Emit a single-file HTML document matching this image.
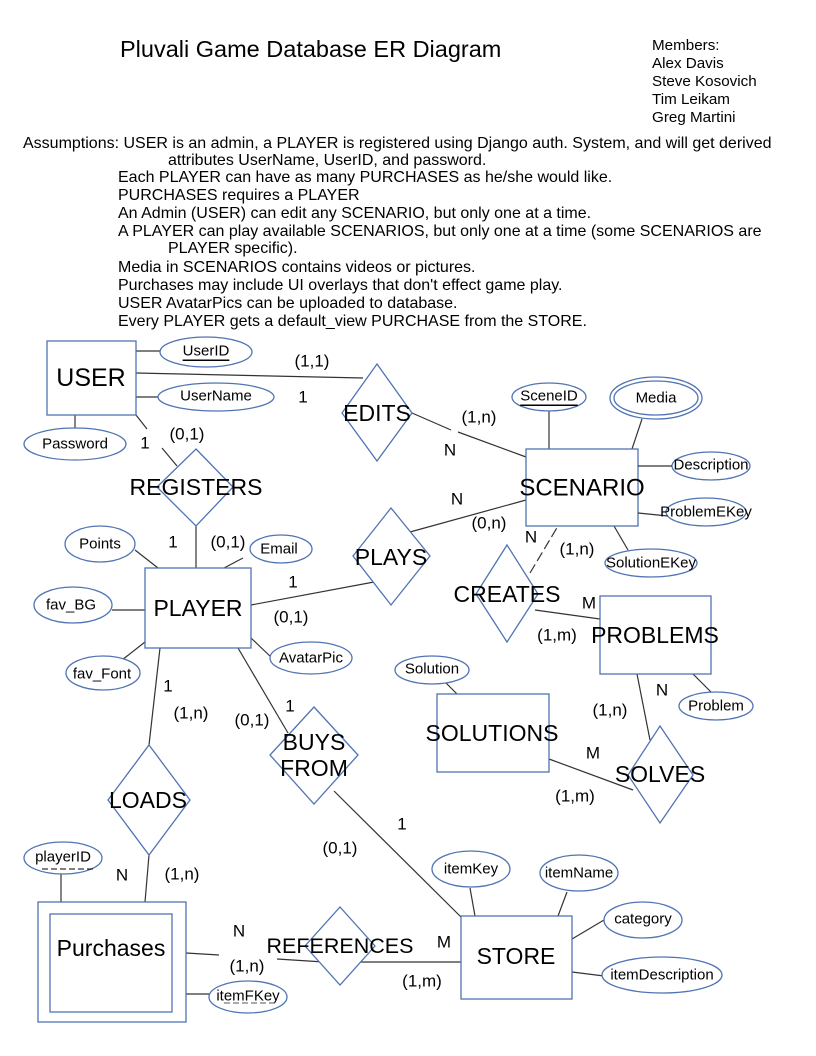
<!DOCTYPE html>
<html><head><meta charset="utf-8"><style>
html,body{margin:0;padding:0;background:#fff}
svg{display:block}
text{font-family:"Liberation Sans",Arial,sans-serif;fill:#000}
.s{fill:#fff;stroke:#4f74b3;stroke-width:1.3}
.l{stroke:#333;stroke-width:1.2;fill:none}
.a{font-size:15px;text-anchor:middle;dominant-baseline:central}
.e{font-size:23px;text-anchor:middle;dominant-baseline:central}
.c{font-size:17px;text-anchor:middle;dominant-baseline:central}
.t{font-size:16px}
.m{font-size:15.2px}
</style></head><body>
<svg width="816" height="1056" viewBox="0 0 816 1056" xmlns="http://www.w3.org/2000/svg">
<text x="120" y="57" style="font-size:23.5px">Pluvali Game Database ER Diagram</text>
<text x="652" y="50" class="m">Members:</text>
<text x="652" y="68" class="m">Alex Davis</text>
<text x="652" y="86" class="m">Steve Kosovich</text>
<text x="652" y="104" class="m">Tim Leikam</text>
<text x="652" y="122" class="m">Greg Martini</text>
<text x="23" y="148" class="t">Assumptions: USER is an admin, a PLAYER is registered using Django auth. System, and will get derived</text>
<text x="168" y="165" class="t">attributes UserName, UserID, and password.</text>
<text x="118" y="182" class="t">Each PLAYER can have as many PURCHASES as he/she would like.</text>
<text x="118" y="200" class="t">PURCHASES requires a PLAYER</text>
<text x="118" y="218" class="t">An Admin (USER) can edit any SCENARIO, but only one at a time.</text>
<text x="118" y="236" class="t">A PLAYER can play available SCENARIOS, but only one at a time (some SCENARIOS are</text>
<text x="168" y="253" class="t">PLAYER specific).</text>
<text x="118" y="272" class="t">Media in SCENARIOS contains videos or pictures.</text>
<text x="118" y="290" class="t">Purchases may include UI overlays that don't effect game play.</text>
<text x="118" y="308" class="t">USER AvatarPics can be uploaded to database.</text>
<text x="118" y="326" class="t">Every PLAYER gets a default_view PURCHASE from the STORE.</text>

<g class="l">
<line x1="136" y1="351" x2="160" y2="351"/>
<line x1="136" y1="373" x2="363" y2="378"/>
<line x1="136" y1="397" x2="158" y2="397"/>
<line x1="75" y1="415" x2="75" y2="429"/>
<line x1="136" y1="415" x2="147" y2="429"/>
<line x1="162" y1="448" x2="177" y2="466"/>
<line x1="196" y1="526" x2="196" y2="568"/>
<line x1="135" y1="550" x2="158" y2="568"/>
<line x1="243" y1="558" x2="224" y2="568"/>
<line x1="112" y1="610" x2="145" y2="610"/>
<line x1="122" y1="660" x2="145" y2="642"/>
<line x1="251" y1="638" x2="272" y2="658"/>
<line x1="251" y1="605" x2="374" y2="582"/>
<line x1="410" y1="532" x2="526" y2="500"/>
<line x1="412" y1="413" x2="451" y2="430"/>
<line x1="458" y1="432" x2="526" y2="457"/>
<line x1="549" y1="411" x2="549" y2="449"/>
<line x1="642" y1="419" x2="632" y2="449"/>
<line x1="614" y1="526" x2="628" y2="550"/>
<line x1="530" y1="573" x2="558" y2="526" stroke-dasharray="10,4"/>
<line x1="535" y1="610" x2="600" y2="619"/>
<line x1="693" y1="674" x2="711" y2="692"/>
<line x1="637" y1="674" x2="650" y2="740"/>
<line x1="446" y1="683" x2="457" y2="694"/>
<line x1="549" y1="759" x2="633" y2="790"/>
<line x1="160" y1="648" x2="149" y2="745"/>
<line x1="149" y1="855" x2="145" y2="902"/>
<line x1="238" y1="648" x2="288" y2="733"/>
<line x1="334" y1="791" x2="461" y2="917"/>
<line x1="61" y1="874" x2="61" y2="902"/>
<line x1="186" y1="994" x2="210" y2="994"/>
<line x1="186" y1="953" x2="219" y2="955"/>
<line x1="277" y1="959" x2="324" y2="962"/>
<line x1="358" y1="962" x2="461" y2="962"/>
<line x1="470" y1="888" x2="475" y2="916"/>
<line x1="567" y1="892" x2="558" y2="916"/>
<line x1="604" y1="920" x2="572" y2="939"/>
<line x1="572" y1="972" x2="604" y2="976"/>
</g>

<rect class="s" x="47" y="341" width="89" height="74"/>
<rect class="s" x="145" y="568" width="106" height="80"/>
<rect class="s" x="526" y="449" width="112" height="77"/>
<rect class="s" x="600" y="596" width="111" height="78"/>
<rect class="s" x="437" y="694" width="112" height="78"/>
<rect class="s" x="38" y="902" width="148" height="120"/>
<rect class="s" x="50" y="914" width="122" height="98"/>
<rect class="s" x="461" y="916" width="111" height="83"/>

<polygon class="s" points="196,449 233,487 196,526 157,487"/>
<polygon class="s" points="377,364 412,413 377,461 342,413"/>
<polygon class="s" points="391,508 430,556 391,605 353,556"/>
<polygon class="s" points="507,545 538,594 507,642 476,594"/>
<polygon class="s" points="660,726 693,775 660,823 628,775"/>
<polygon class="s" points="149,745 190,800 149,855 108,800"/>
<polygon class="s" points="314,707 358,755 314,804 270,755"/>
<polygon class="s" points="340,907 375,946 340,985 305,946"/>

<ellipse class="s" cx="206" cy="352" rx="46" ry="15"/>
<ellipse class="s" cx="216" cy="397" rx="58" ry="14"/>
<ellipse class="s" cx="75" cy="444" rx="51" ry="16"/>
<ellipse class="s" cx="100" cy="544" rx="35" ry="18"/>
<ellipse class="s" cx="281" cy="549" rx="31" ry="14"/>
<ellipse class="s" cx="73" cy="605" rx="39" ry="18"/>
<ellipse class="s" cx="103" cy="673" rx="37" ry="17"/>
<ellipse class="s" cx="311" cy="658" rx="41" ry="16"/>
<ellipse class="s" cx="549" cy="397" rx="37" ry="14"/>
<ellipse class="s" cx="656" cy="398" rx="46" ry="21"/>
<ellipse class="s" cx="656" cy="398" rx="42" ry="17"/>
<ellipse class="s" cx="711" cy="466" rx="39" ry="14"/>
<ellipse class="s" cx="706" cy="512" rx="40" ry="14"/>
<ellipse class="s" cx="651" cy="563" rx="46" ry="14"/>
<ellipse class="s" cx="716" cy="706" rx="37" ry="14"/>
<ellipse class="s" cx="432" cy="670" rx="37" ry="14"/>
<ellipse class="s" cx="63" cy="858" rx="39" ry="16"/>
<ellipse class="s" cx="248" cy="997" rx="39" ry="16"/>
<ellipse class="s" cx="471" cy="869" rx="39" ry="18"/>
<ellipse class="s" cx="579" cy="873" rx="39" ry="18"/>
<ellipse class="s" cx="643" cy="920" rx="39" ry="18"/>
<ellipse class="s" cx="662" cy="975" rx="60" ry="18"/>
<line class="l" x1="638" y1="466" x2="672" y2="466"/>
<line class="l" x1="638" y1="513" x2="668" y2="516"/>

<text class="e" x="91" y="378" style="font-size:25px">USER</text>
<text class="e" x="196" y="487">REGISTERS</text>
<text class="e" x="377" y="413">EDITS</text>
<text class="e" x="391" y="557">PLAYS</text>
<text class="e" x="198" y="608">PLAYER</text>
<text class="e" x="582" y="488" style="font-size:24px">SCENARIO</text>
<text class="e" x="507" y="594">CREATES</text>
<text class="e" x="655" y="635">PROBLEMS</text>
<text class="e" x="492" y="733">SOLUTIONS</text>
<text class="e" x="660" y="774">SOLVES</text>
<text class="e" x="148" y="800">LOADS</text>
<text class="e" x="314" y="742">BUYS</text>
<text class="e" x="314" y="768">FROM</text>
<text class="e" x="111" y="948">Purchases</text>
<text class="e" x="340" y="946" style="font-size:21.5px">REFERENCES</text>
<text class="e" x="516" y="956">STORE</text>

<text class="a" x="206" y="351" text-decoration="underline">UserID</text>
<text class="a" x="216" y="396">UserName</text>
<text class="a" x="75" y="444">Password</text>
<text class="a" x="100" y="544">Points</text>
<text class="a" x="279" y="549">Email</text>
<text class="a" x="71" y="605">fav_BG</text>
<text class="a" x="102" y="674">fav_Font</text>
<text class="a" x="311" y="658">AvatarPic</text>
<text class="a" x="549" y="396" text-decoration="underline">SceneID</text>
<text class="a" x="656" y="398">Media</text>
<text class="a" x="711" y="465">Description</text>
<text class="a" x="706" y="512">ProblemEKey</text>
<text class="a" x="651" y="563">SolutionEKey</text>
<text class="a" x="716" y="706">Problem</text>
<text class="a" x="432" y="669">Solution</text>
<text class="a" x="63" y="857">playerID</text>
<line x1="42" y1="869" x2="94" y2="869" stroke="#000" stroke-dasharray="6,3"/>
<text class="a" x="248" y="996">itemFKey</text>
<line x1="224" y1="1003" x2="278" y2="1003" stroke="#555" stroke-dasharray="6,3"/>
<text class="a" x="471" y="869">itemKey</text>
<text class="a" x="579" y="873">itemName</text>
<text class="a" x="643" y="919">category</text>
<text class="a" x="662" y="975">itemDescription</text>

<g>
<text class="c" x="312" y="361">(1,1)</text>
<text class="c" x="303" y="397">1</text>
<text class="c" x="145" y="443">1</text>
<text class="c" x="187" y="434">(0,1)</text>
<text class="c" x="173" y="542">1</text>
<text class="c" x="228" y="542">(0,1)</text>
<text class="c" x="293" y="582">1</text>
<text class="c" x="291" y="617">(0,1)</text>
<text class="c" x="450" y="450">N</text>
<text class="c" x="479" y="417">(1,n)</text>
<text class="c" x="457" y="499">N</text>
<text class="c" x="489" y="523">(0,n)</text>
<text class="c" x="531" y="537">N</text>
<text class="c" x="577" y="549">(1,n)</text>
<text class="c" x="589" y="603">M</text>
<text class="c" x="557" y="635">(1,m)</text>
<text class="c" x="662" y="690">N</text>
<text class="c" x="610" y="710">(1,n)</text>
<text class="c" x="593" y="753">M</text>
<text class="c" x="575" y="796">(1,m)</text>
<text class="c" x="168" y="686">1</text>
<text class="c" x="191" y="713">(1,n)</text>
<text class="c" x="252" y="720">(0,1)</text>
<text class="c" x="290" y="706">1</text>
<text class="c" x="402" y="824">1</text>
<text class="c" x="340" y="848">(0,1)</text>
<text class="c" x="122" y="875">N</text>
<text class="c" x="182" y="874">(1,n)</text>
<text class="c" x="239" y="931">N</text>
<text class="c" x="247" y="966">(1,n)</text>
<text class="c" x="444" y="942">M</text>
<text class="c" x="422" y="981">(1,m)</text>
</g>
</svg>
</body></html>
